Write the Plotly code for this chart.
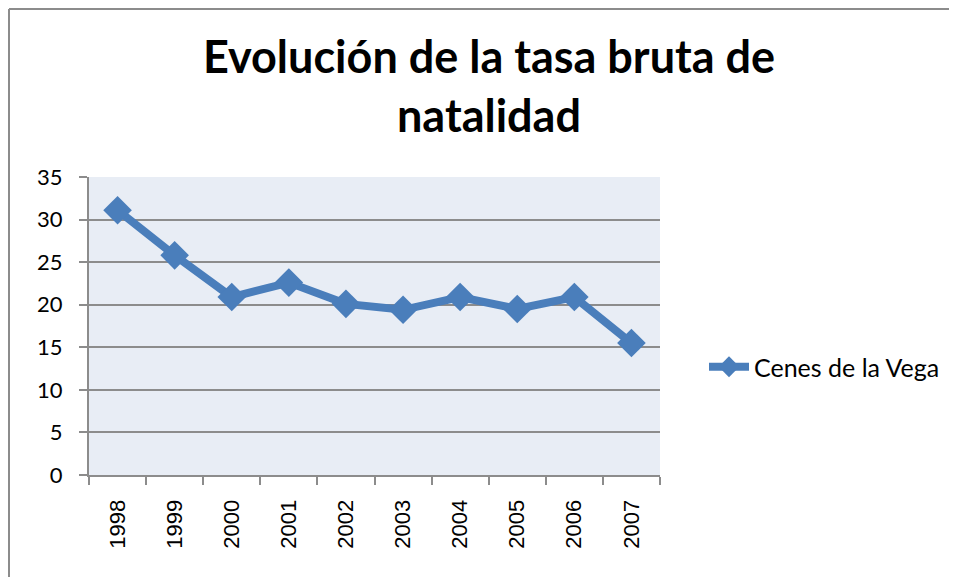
from plotly.graph_objects import Figure, Scatter

# data
years = ['1998', '1999', '2000', '2001', '2002', '2003', '2004', '2005', '2006', '2007']
tasa = [31.1, 25.8, 20.9, 22.6, 20.1, 19.4, 20.9, 19.5, 20.9, 15.5]
series_name = 'Cenes de la Vega'

W, H = 957, 577
OFF = 8  # page body margin
# plot area in page pixels: x 89..660, y 177..475
L, T = 89 - OFF, 177 - OFF
R, B = W - (660 - OFF), H - (475 - OFF)
pw, ph = W - L - R, H - T - B

def px(xp):
    return (xp - OFF - L) / pw

def py(yp):
    return 1 - (yp - OFF - T) / ph

fig = Figure()
fig.add_trace(Scatter(
    x=years, y=tasa, name=series_name, mode='lines+markers',
    line=dict(color='#4A7EBB', width=8),
    marker=dict(symbol='diamond', size=22, color='#4A7EBB'),
))

# outer chart border (left and top only visible)
fig.add_shape(type='line', xref='paper', yref='paper', x0=px(9), x1=px(9), y0=py(9), y1=-2,
              line=dict(color='#8C8C8C', width=2))
fig.add_shape(type='line', xref='paper', yref='paper', x0=px(9), x1=2, y0=py(9), y1=py(9),
              line=dict(color='#8C8C8C', width=2))

fig.update_layout(dict(
    width=W, height=H,
    margin=dict(l=L, r=R, t=T, b=B),
    paper_bgcolor='white',
    plot_bgcolor='#E8EDF5',
    title=dict(
        text='Evolución de la tasa bruta de<br>natalidad',
        font=dict(family='Lato', size=45, color='black', weight='bold'),
        x=px(489), xref='paper', xanchor='center',
        y=1 - (73 - OFF) / H, yanchor='middle',
    ),
    xaxis=dict(
        type='category', tickangle=-90, range=[-0.5, len(years) - 0.5],
        tickfont=dict(family='Liberation Sans', size=22, color='black'),
        showline=True, linecolor='#8C8C8C', linewidth=2,
        ticks='outside', tickson='boundaries', ticklen=8, tickcolor='#8C8C8C', tickwidth=2,
        ticklabelstandoff=14,
        showgrid=False, mirror=False,
    ),
    yaxis=dict(
        range=[0, 35], dtick=5,
        tickfont=dict(family='Lato', size=22, color='black'),
        showline=True, linecolor='#8C8C8C', linewidth=2,
        ticks='outside', ticklen=8, tickcolor='#8C8C8C', tickwidth=2,
        ticklabelstandoff=12,
        showgrid=True, gridcolor='#8C8C8C', gridwidth=2,
        zeroline=False,
    ),
    legend=dict(
        x=px(704), xanchor='left', y=py(367), yanchor='middle',
        font=dict(family='Lato', size=25, color='black'),
        itemwidth=40, bgcolor='rgba(0,0,0,0)',
    ),
    showlegend=True,
))

fig.write_html('out.html')
